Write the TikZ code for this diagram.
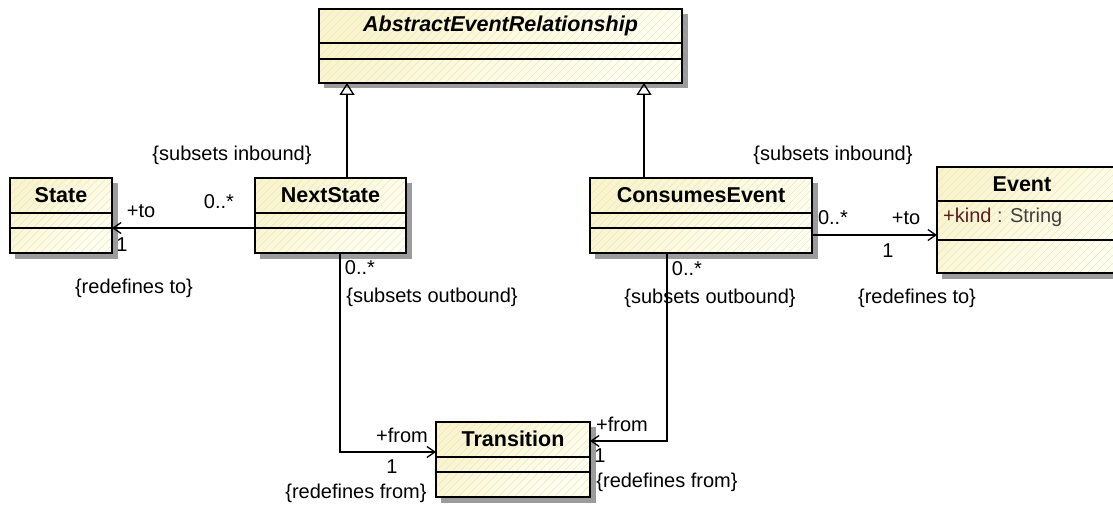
\documentclass[tikz,border=0pt]{standalone}
\usepackage{fontspec}
\setmainfont{Liberation Sans}
\usetikzlibrary{arrows.meta,calc}
\definecolor{fillA}{HTML}{F9F4CC}
\definecolor{fillB}{HTML}{FFFFF2}
\definecolor{hatchc}{HTML}{ECE7C6}
\definecolor{shadowgray}{HTML}{9C9C9C}
\definecolor{attrc}{HTML}{5A1E1E}
\definecolor{typec}{HTML}{404040}
\begin{document}
\begin{tikzpicture}[x=1pt,y=-1pt,
  cls/.style={draw=black, line width=1.3pt, anchor=north west, inner sep=0pt, outer sep=0pt,
    top color=fillA, bottom color=fillB, shading angle=45,
    path picture={\foreach \k in {-130,-122,...,380}
      \draw[hatchc, line width=0.5pt] ([xshift=\k pt]path picture bounding box.south west) -- ++(140pt,140pt);}},
  shdbox/.style={fill=shadowgray, draw=none},
  cline/.style={draw=black, line width=1.3pt},
  ttl/.style={font=\fontsize{21.5}{24}\selectfont\bfseries, inner sep=0pt},
  lbl/.style={font=\fontsize{20}{24}\selectfont, inner sep=0pt},
  gen/.style={draw=black, line width=1.3pt, -{Triangle[open, length=12pt, width=15pt]}},
  assoc/.style={draw=black, line width=1.3pt, -{Straight Barb[length=8pt, width=11pt]}},
]
\useasboundingbox (0,0) rectangle (1113,508);

% shadows (drawn first, offset boxes)
\path[shdbox] (324,14) rectangle (687.5,88.5);
\path[shdbox] (15,183) rectangle (117.5,258.5);
\path[shdbox] (260,183) rectangle (411.5,258.5);
\path[shdbox] (595,183) rectangle (817.5,258.5);
\path[shdbox] (942,172) rectangle (1113,278.5);
\path[shdbox] (441,427) rectangle (595.5,502.5);

% classes
\node[cls, minimum width=363pt, minimum height=74pt] (AER) at (319,9) {};
\draw[cline] ([yshift=-34pt]AER.north west) -- ([yshift=-34pt]AER.north east);
\draw[cline] ([yshift=-50pt]AER.north west) -- ([yshift=-50pt]AER.north east);
\node[ttl, font=\fontsize{21.5}{24}\selectfont\bfseries\itshape] (tAER) at ([yshift=-17pt]AER.north) {AbstractEventRelationship};

\node[cls, minimum width=102pt, minimum height=75pt] (State) at (10,178) {};
\draw[cline] ([yshift=-35pt]State.north west) -- ([yshift=-35pt]State.north east);
\draw[cline] ([yshift=-50pt]State.north west) -- ([yshift=-50pt]State.north east);
\node[ttl] (tState) at ([yshift=-17pt]State.north) {State};

\node[cls, minimum width=151pt, minimum height=75pt] (NextState) at (255,178) {};
\draw[cline] ([yshift=-35pt]NextState.north west) -- ([yshift=-35pt]NextState.north east);
\draw[cline] ([yshift=-50pt]NextState.north west) -- ([yshift=-50pt]NextState.north east);
\node[ttl] (tNextState) at ([yshift=-17pt]NextState.north) {NextState};

\node[cls, minimum width=222pt, minimum height=75pt] (ConsumesEvent) at (590,178) {};
\draw[cline] ([yshift=-35pt]ConsumesEvent.north west) -- ([yshift=-35pt]ConsumesEvent.north east);
\draw[cline] ([yshift=-50pt]ConsumesEvent.north west) -- ([yshift=-50pt]ConsumesEvent.north east);
\node[ttl] (tConsumesEvent) at ([yshift=-17pt]ConsumesEvent.north) {ConsumesEvent};

\node[cls, minimum width=190pt, minimum height=106pt] (Event) at (937,167) {};
\draw[cline] ([yshift=-34pt]Event.north west) -- ([yshift=-34pt]Event.north east);
\draw[cline] ([yshift=-73pt]Event.north west) -- ([yshift=-73pt]Event.north east);
\node[ttl] (tEvent) at (1022,184) {Event};
\node[lbl, anchor=west] (kind) at (943,217) {\textcolor{attrc}{+kind}\ \textcolor{typec}{: String}};

\node[cls, minimum width=154pt, minimum height=75pt] (Transition) at (436,422) {};
\draw[cline] ([yshift=-35pt]Transition.north west) -- ([yshift=-35pt]Transition.north east);
\draw[cline] ([yshift=-50pt]Transition.north west) -- ([yshift=-50pt]Transition.north east);
\node[ttl] (tTransition) at ([yshift=-17pt]Transition.north) {Transition};

% generalizations
\coordinate (g1) at (347,0);
\coordinate (g2) at (644,0);
\draw[gen] (NextState.north -| g1) -- (AER.south -| g1);
\draw[gen] (ConsumesEvent.north -| g2) -- (AER.south -| g2);

% associations
\draw[assoc] ([yshift=-50pt]NextState.north west) -- ([yshift=-50pt]State.north east);
\draw[assoc] ([yshift=-57pt]ConsumesEvent.north east) -- ([yshift=-68pt]Event.north west);
\draw[assoc] ([xshift=85pt]NextState.south west) |- ([yshift=-30pt]Transition.north west);
\draw[assoc] ([xshift=77pt]ConsumesEvent.south west) |- ([yshift=-19pt]Transition.north east);

% labels
\node[lbl] (l1) at (232,155) {\{subsets inbound\}};
\node[lbl] (l2) at (141,211) {+to};
\node[lbl] (l3) at (219,202) {0..*};
\node[lbl] (l4) at (122,245) {1};
\node[lbl] (l5) at (134,288) {\{redefines to\}};
\node[lbl] (l6) at (360,268) {0..*};
\node[lbl] (l7) at (432,297) {\{subsets outbound\}};
\node[lbl] (l8) at (833,155) {\{subsets inbound\}};
\node[lbl] (l9) at (833,218) {0..*};
\node[lbl] (l10) at (906,218) {+to};
\node[lbl] (l11) at (888,251) {1};
\node[lbl] (l12) at (917,298) {\{redefines to\}};
\node[lbl] (l13) at (687,269) {0..*};
\node[lbl] (l14) at (710,298) {\{subsets outbound\}};
\node[lbl] (l15) at (402,435) {+from};
\node[lbl] (l16) at (392,467) {1};
\node[lbl] (l17) at (356,493) {\{redefines from\}};
\node[lbl] (l18) at (622,424) {+from};
\node[lbl] (l19) at (600,456) {1};
\node[lbl] (l20) at (667,482) {\{redefines from\}};
\end{tikzpicture}
\end{document}
